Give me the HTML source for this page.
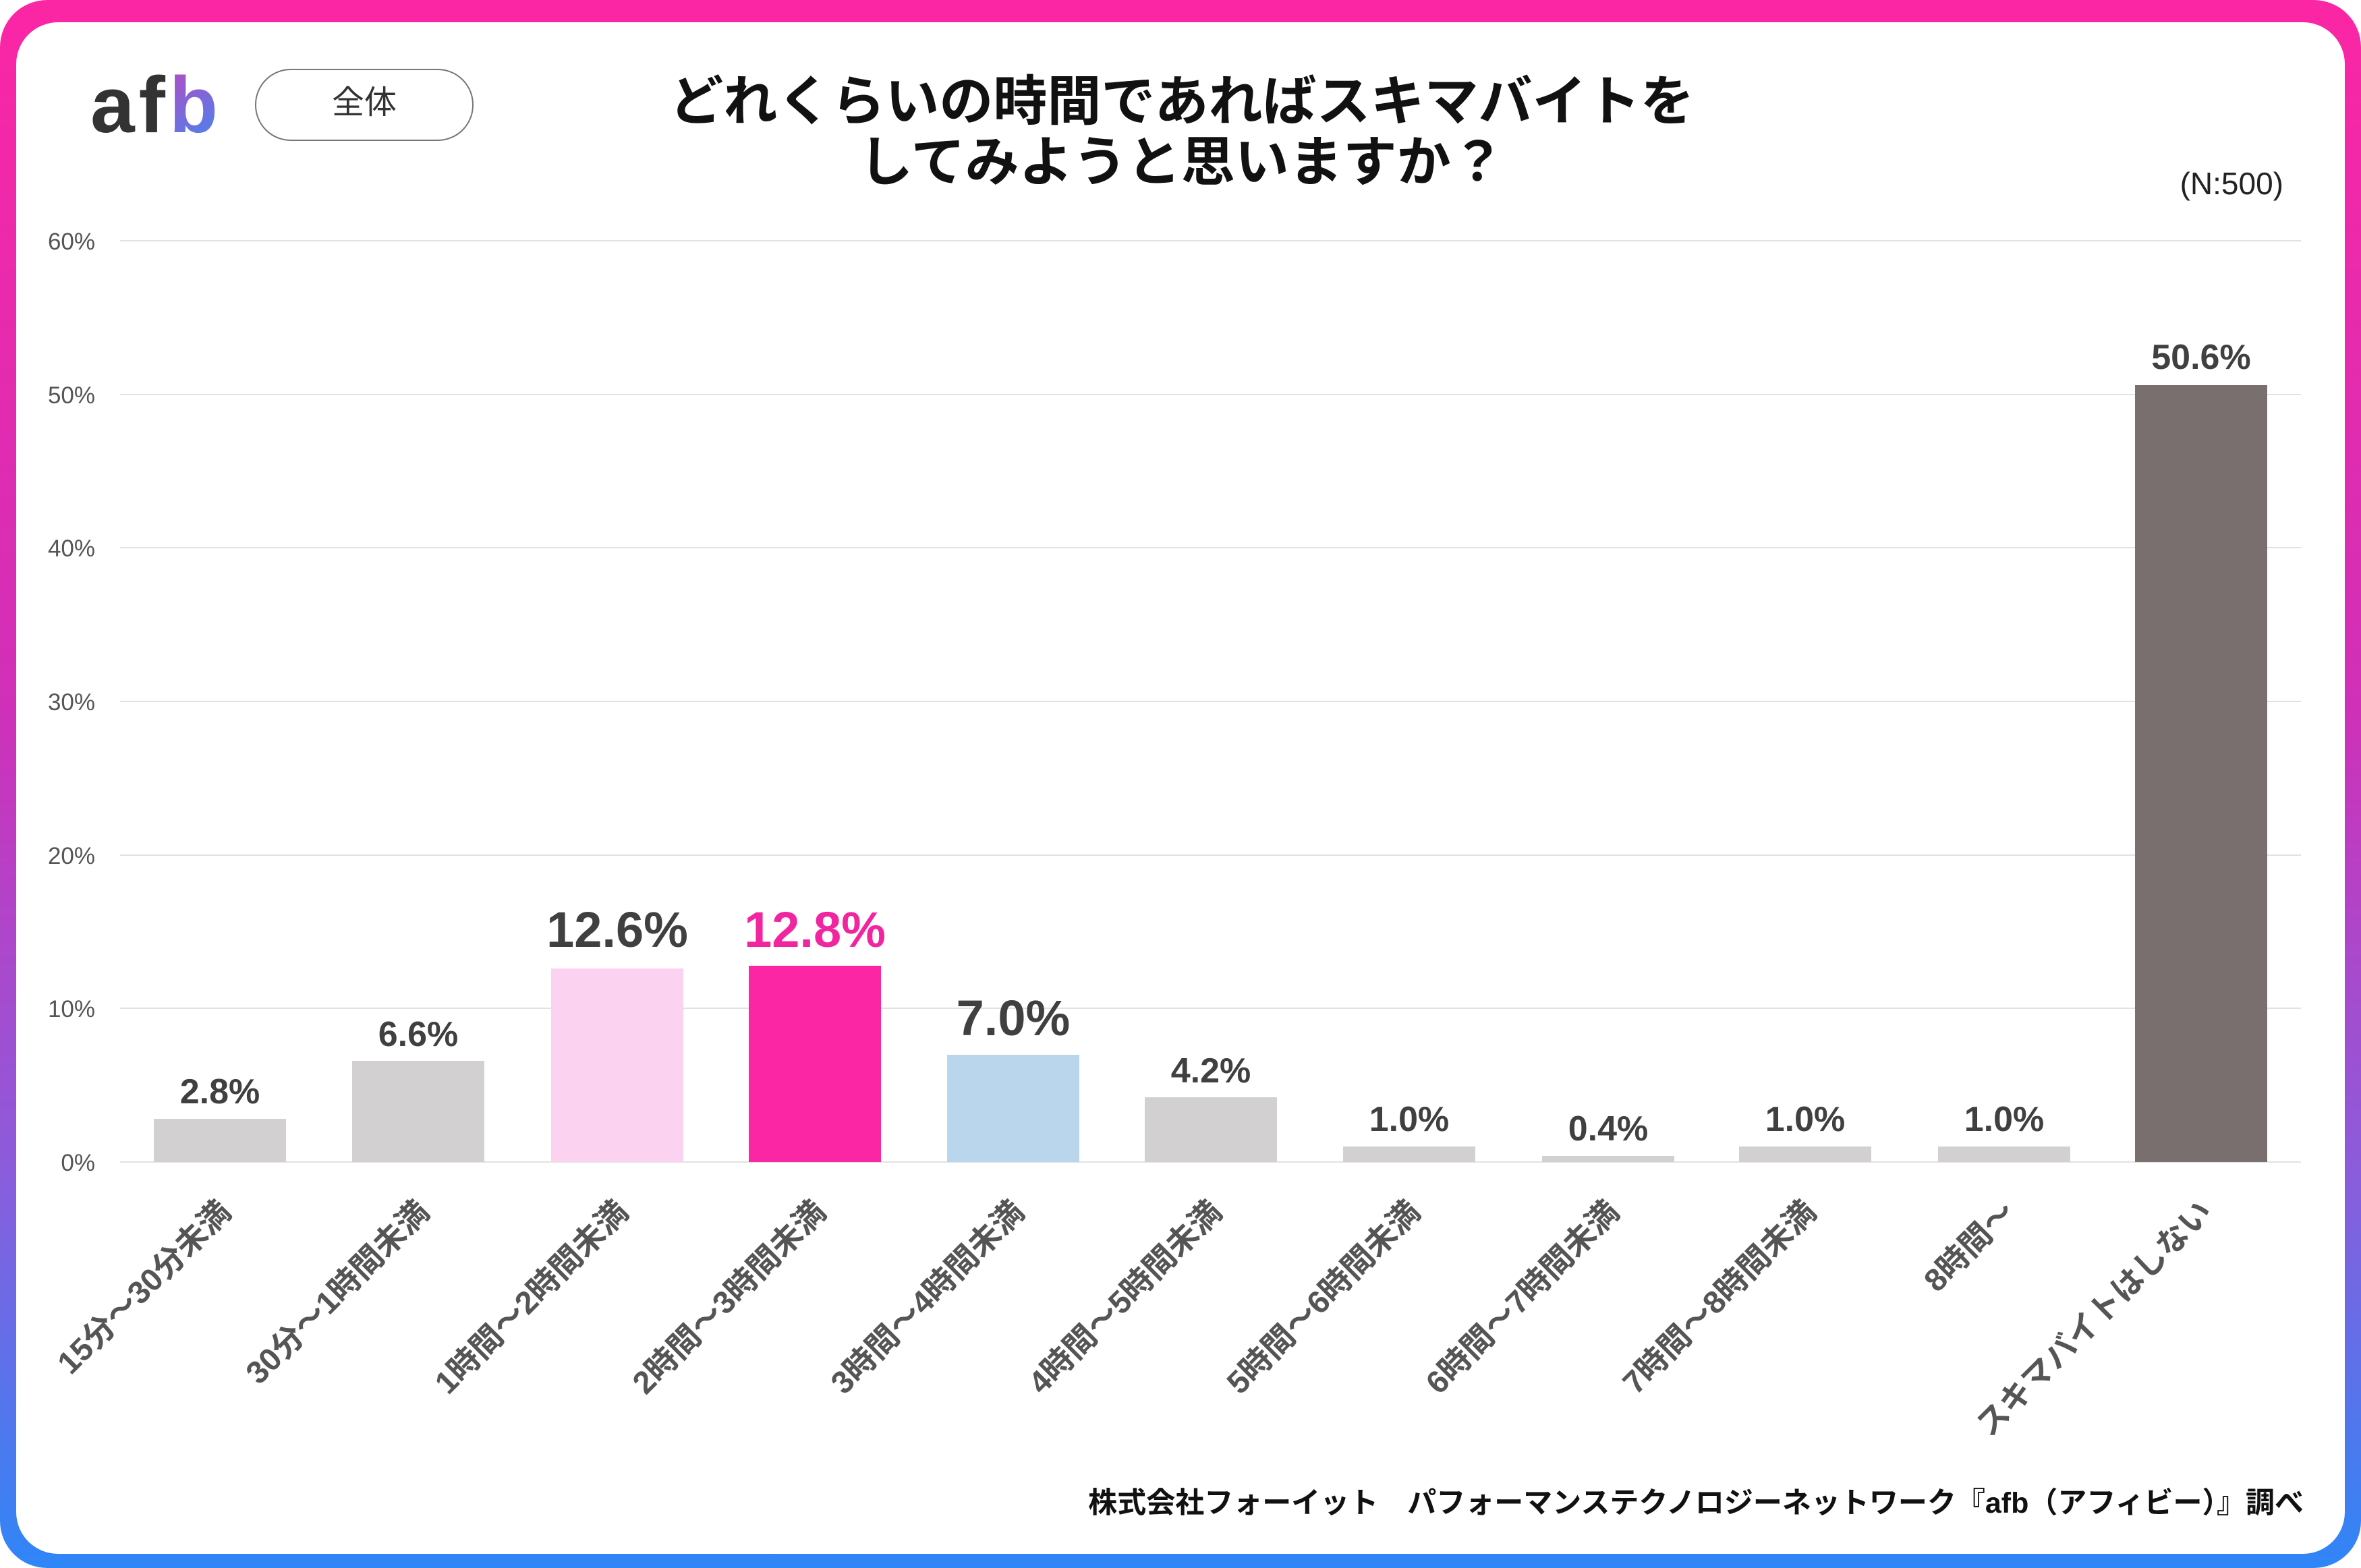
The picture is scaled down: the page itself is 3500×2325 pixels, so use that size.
<!DOCTYPE html>
<html><head><meta charset="utf-8"><style>
html,body{margin:0;padding:0;background:#fff}
svg{display:block}
text{font-family:"Liberation Sans","Noto Sans CJK JP",sans-serif}
</style></head><body>
<svg width="3500" height="2325" viewBox="0 0 3500 2325" xmlns="http://www.w3.org/2000/svg">
<defs>
<linearGradient id="fr" x1="0" y1="0" x2="0" y2="1">
<stop offset="0" stop-color="#fb26a4"/><stop offset="0.45" stop-color="#d030b8"/><stop offset="0.75" stop-color="#8a5ddc"/><stop offset="1" stop-color="#2f86f7"/>
</linearGradient>
<linearGradient id="lb" x1="0" y1="0" x2="1" y2="1">
<stop offset="0" stop-color="#f22aa8"/><stop offset="1" stop-color="#3a8cf5"/>
</linearGradient>
</defs>
<rect x="0" y="0" width="3500" height="2325" rx="70" fill="url(#fr)"/>
<rect x="24" y="33" width="3452" height="2271" rx="62" fill="#fff"/>

<!-- logo -->
<text x="134" y="196" font-size="118" font-weight="bold" fill="#333" letter-spacing="6">af<tspan fill="url(#lb)">b</tspan></text>
<rect x="379" y="103" width="322" height="105" rx="52" fill="#fff" stroke="#777" stroke-width="2"/>
<text x="540" y="168" font-size="48" fill="#333" text-anchor="middle">全体</text>

<!-- title -->
<text x="1752" y="178" font-size="80" font-weight="bold" fill="#111" text-anchor="middle">どれくらいの時間であればスキマバイトを</text>
<text x="1752" y="268" font-size="80" font-weight="bold" fill="#111" text-anchor="middle">してみようと思いますか？</text>
<text x="3385" y="288" font-size="46" fill="#222" text-anchor="end">(N:500)</text>

<!-- grid -->
<g stroke="#e2e2e2" stroke-width="2">
<line x1="178" y1="357" x2="3411" y2="357"/>
<line x1="178" y1="585" x2="3411" y2="585"/>
<line x1="178" y1="812" x2="3411" y2="812"/>
<line x1="178" y1="1040" x2="3411" y2="1040"/>
<line x1="178" y1="1268" x2="3411" y2="1268"/>
<line x1="178" y1="1495" x2="3411" y2="1495"/>
<line x1="178" y1="1723" x2="3411" y2="1723"/>
</g>
<g font-size="35" fill="#555" text-anchor="end">
<text x="141" y="370">60%</text>
<text x="141" y="598">50%</text>
<text x="141" y="825">40%</text>
<text x="141" y="1053">30%</text>
<text x="141" y="1281">20%</text>
<text x="141" y="1508">10%</text>
<text x="141" y="1736">0%</text>
</g>

<!-- bars -->
<rect x="228" y="1659" width="196" height="64" fill="#d3d0d1"/>
<rect x="522" y="1573" width="196" height="150" fill="#d3d0d1"/>
<rect x="817" y="1436" width="196" height="287" fill="#fbd3f1"/>
<rect x="1110" y="1432" width="196" height="291" fill="#fb26a4"/>
<rect x="1404" y="1564" width="196" height="159" fill="#bad6ec"/>
<rect x="1697" y="1627" width="196" height="96" fill="#d3d0d1"/>
<rect x="1991" y="1700" width="196" height="23" fill="#d3d0d1"/>
<rect x="2286" y="1714" width="196" height="9" fill="#d3d0d1"/>
<rect x="2578" y="1700" width="196" height="23" fill="#d3d0d1"/>
<rect x="2873" y="1700" width="196" height="23" fill="#d3d0d1"/>
<rect x="3165" y="571" width="196" height="1152" fill="#786f6e"/>

<!-- value labels -->
<g font-weight="bold" fill="#404040" text-anchor="middle">
<text x="326" y="1636" font-size="52">2.8%</text>
<text x="620" y="1551" font-size="52">6.6%</text>
<text x="915" y="1404" font-size="74">12.6%</text>
<text x="1208" y="1404" font-size="74" fill="#f0259f">12.8%</text>
<text x="1502" y="1535" font-size="74">7.0%</text>
<text x="1795" y="1605" font-size="52">4.2%</text>
<text x="2089" y="1677" font-size="52">1.0%</text>
<text x="2384" y="1691" font-size="52">0.4%</text>
<text x="2676" y="1677" font-size="52">1.0%</text>
<text x="2971" y="1677" font-size="52">1.0%</text>
<text x="3263" y="547" font-size="52">50.6%</text>
</g>

<!-- category labels -->
<g font-size="47" font-weight="bold" fill="#555" text-anchor="end">
<text transform="translate(345,1800) rotate(-45)">15分～30分未満</text>
<text transform="translate(639,1800) rotate(-45)">30分～1時間未満</text>
<text transform="translate(934,1800) rotate(-45)">1時間～2時間未満</text>
<text transform="translate(1227,1800) rotate(-45)">2時間～3時間未満</text>
<text transform="translate(1521,1800) rotate(-45)">3時間～4時間未満</text>
<text transform="translate(1814,1800) rotate(-45)">4時間～5時間未満</text>
<text transform="translate(2108,1800) rotate(-45)">5時間～6時間未満</text>
<text transform="translate(2403,1800) rotate(-45)">6時間～7時間未満</text>
<text transform="translate(2695,1800) rotate(-45)">7時間～8時間未満</text>
<text transform="translate(2990,1800) rotate(-45)">8時間～</text>
<text transform="translate(3282,1800) rotate(-45)">スキマバイトはしない</text>
</g>

<text x="3415" y="2243" font-size="43" font-weight="bold" fill="#111" text-anchor="end">株式会社フォーイット　パフォーマンステクノロジーネットワーク『afb（アフィビー）』調べ</text>
</svg>
</body></html>
